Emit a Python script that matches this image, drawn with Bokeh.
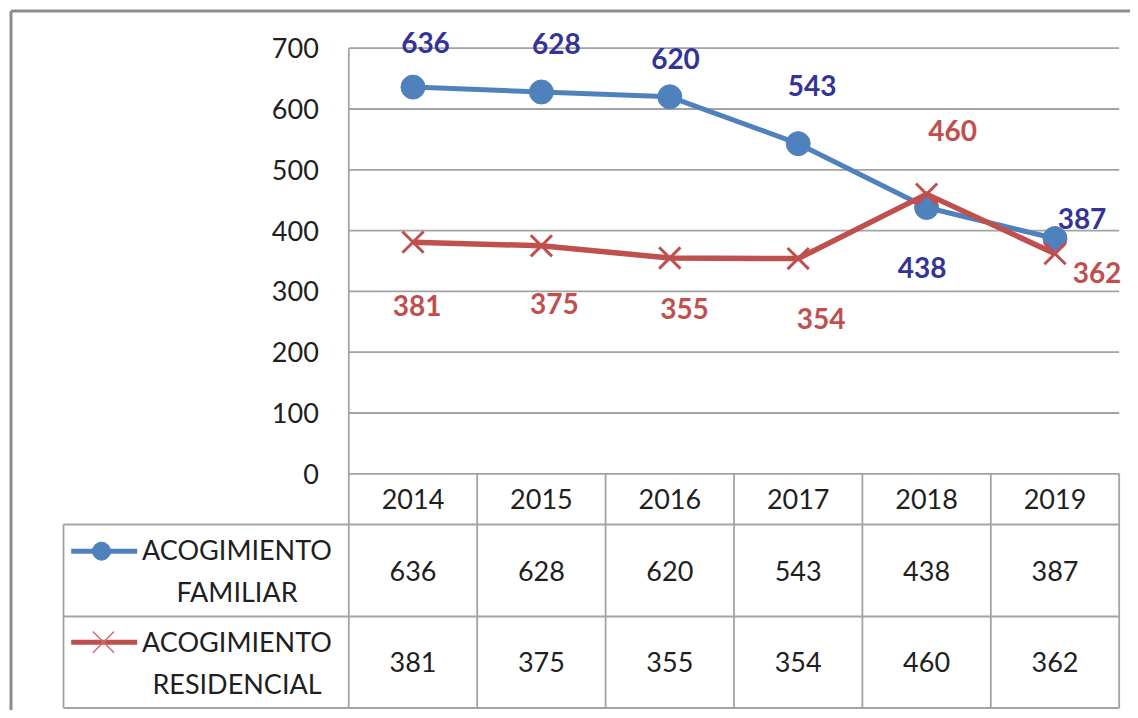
from bokeh.plotting import figure
from bokeh.models import Range1d
from bokeh.core.properties import value
from bokeh.embed import file_html
from bokeh.resources import INLINE

# ---------------- data ----------------
years = ["2014", "2015", "2016", "2017", "2018", "2019"]
familiar = [636, 628, 620, 543, 438, 387]
residencial = [381, 375, 355, 354, 460, 362]
series_names = ["ACOGIMIENTO\nFAMILIAR", "ACOGIMIENTO\nRESIDENCIAL"]
y_ticks = [0, 100, 200, 300, 400, 500, 600, 700]

# ---------------- layout (screen geometry) ----------------
W, H = 1130, 710
ORIGIN = 0
COL_W = 128.4        # px per category
X0_PX = 412.5        # image x of first category centre
Y0_PX = 473.3        # image y of value 0
PX_PER_UNIT = 0.608  # px per value unit


def dx(px):
    return (px - X0_PX) / COL_W


def dy(py):
    return (Y0_PX - py) / PX_PER_UNIT


FONT = value("Lato")
FS = "27px"
FS_LBL = "28px"
TXT = "#1f1f1f"
GRID = "#a3a3a3"
BLUE = "#4F81BD"
RED = "#C0504D"
BLUE_LBL = "#333399"

# label offsets (screen px) for the data labels
fam_off = [(12.5, -45), (15, -48), (5.7, -38), (14, -58), (-4.5, 60), (27, -20)]
res_off = [(4.2, 63), (13, 58), (14.7, 51), (23, 60), (26, -63.6), (42, 18.5)]

p = figure(width=W, height=H,
           x_range=Range1d(dx(ORIGIN), dx(ORIGIN + W)),
           y_range=Range1d(dy(ORIGIN + H), dy(ORIGIN)),
           x_axis_type=None, y_axis_type=None,
           output_backend="svg", toolbar_location=None, min_border=0)
p.grid.visible = False
p.outline_line_color = None
p.background_fill_color = "white"
p.border_fill_color = "white"

n = len(years)
xs = list(range(n))
left_edge = -0.5
right_edge = n - 0.5
tbl_left = dx(63)
row_b = [0, dy(524), dy(616), dy(707.5)]

# outer frame (left & top edges visible)
p.segment(x0=[dx(10.5), dx(10.5)], y0=[dy(10.5), dy(10.5)],
          x1=[dx(10.5), dx(ORIGIN + W + 5)], y1=[dy(ORIGIN + H + 5), dy(10.5)],
          line_color="#8c8c8c", line_width=3)

# horizontal gridlines
p.segment(x0=[left_edge] * len(y_ticks), x1=[right_edge] * len(y_ticks),
          y0=y_ticks, y1=y_ticks, line_color=GRID, line_width=1.8)
# left plot border (also table divider)
p.segment(x0=[left_edge], x1=[left_edge], y0=[y_ticks[-1]], y1=[row_b[3]],
          line_color=GRID, line_width=1.8)
# table horizontal lines
p.segment(x0=[tbl_left] * 3, x1=[right_edge] * 3, y0=row_b[1:], y1=row_b[1:],
          line_color=GRID, line_width=1.8)
# table vertical lines between categories
vx = [i + 0.5 for i in range(n)]
p.segment(x0=vx, x1=vx, y0=[0] * n, y1=[row_b[3]] * n, line_color=GRID, line_width=1.8)
p.segment(x0=[tbl_left], x1=[tbl_left], y0=[row_b[1]], y1=[row_b[3]],
          line_color=GRID, line_width=1.8)

# y tick labels
p.text(x=[left_edge] * len(y_ticks), y=y_ticks, text=[str(t) for t in y_ticks],
       x_offset=-30, text_align="right", text_baseline="middle",
       text_font=FONT, text_font_size=FS, text_color=TXT)

# series
p.line(xs, familiar, line_color=BLUE, line_width=5, line_join="round")
p.scatter(xs, familiar, marker="circle", size=24, fill_color=BLUE, line_color=BLUE)
p.line(xs, residencial, line_color=RED, line_width=5.5, line_join="round")
p.scatter(xs, residencial, marker="x", size=30, line_color=RED, line_width=3)

# data labels
p.text(x=xs, y=familiar, text=[str(v) for v in familiar],
       x_offset=[o[0] for o in fam_off], y_offset=[o[1] for o in fam_off],
       text_align="center", text_baseline="middle", text_font=FONT,
       text_font_size=FS_LBL, text_font_style="bold", text_color=BLUE_LBL)
p.text(x=xs, y=residencial, text=[str(v) for v in residencial],
       x_offset=[o[0] for o in res_off], y_offset=[o[1] for o in res_off],
       text_align="center", text_baseline="middle", text_font=FONT,
       text_font_size=FS_LBL, text_font_style="bold", text_color=RED)

# table: years row
yr_mid = (row_b[0] + row_b[1]) / 2
p.text(x=xs, y=[yr_mid] * n, text=years, text_align="center", text_baseline="middle",
       text_font=FONT, text_font_size=FS, text_color=TXT)
# table: value rows
r1 = (row_b[1] + row_b[2]) / 2
r2 = (row_b[2] + row_b[3]) / 2
p.text(x=xs, y=[r1] * n, text=[str(v) for v in familiar], text_align="center",
       text_baseline="middle", text_font=FONT, text_font_size=FS, text_color=TXT)
p.text(x=xs, y=[r2] * n, text=[str(v) for v in residencial], text_align="center",
       text_baseline="middle", text_font=FONT, text_font_size=FS, text_color=TXT)

# table: legend keys
p.line([dx(70.7), dx(136.7)], [dy(550.7), dy(550.7)], line_color=BLUE, line_width=5)
p.scatter([dx(101)], [dy(550.7)], marker="circle", size=18, fill_color=BLUE, line_color=BLUE)
p.line([dx(70.7), dx(136.7)], [dy(641.7), dy(641.7)], line_color=RED, line_width=5)
p.scatter([dx(103)], [dy(641.7)], marker="x", size=30, line_color="#D46A6A", line_width=1.5)

# table: series names
p.text(x=[dx(236.5)] * 2, y=[r1, r2], text=series_names, text_align="center",
       text_baseline="middle", text_line_height=1.26, text_font=FONT,
       text_font_size=FS, text_color=TXT)

open("out.html", "w").write(file_html(p, INLINE))
